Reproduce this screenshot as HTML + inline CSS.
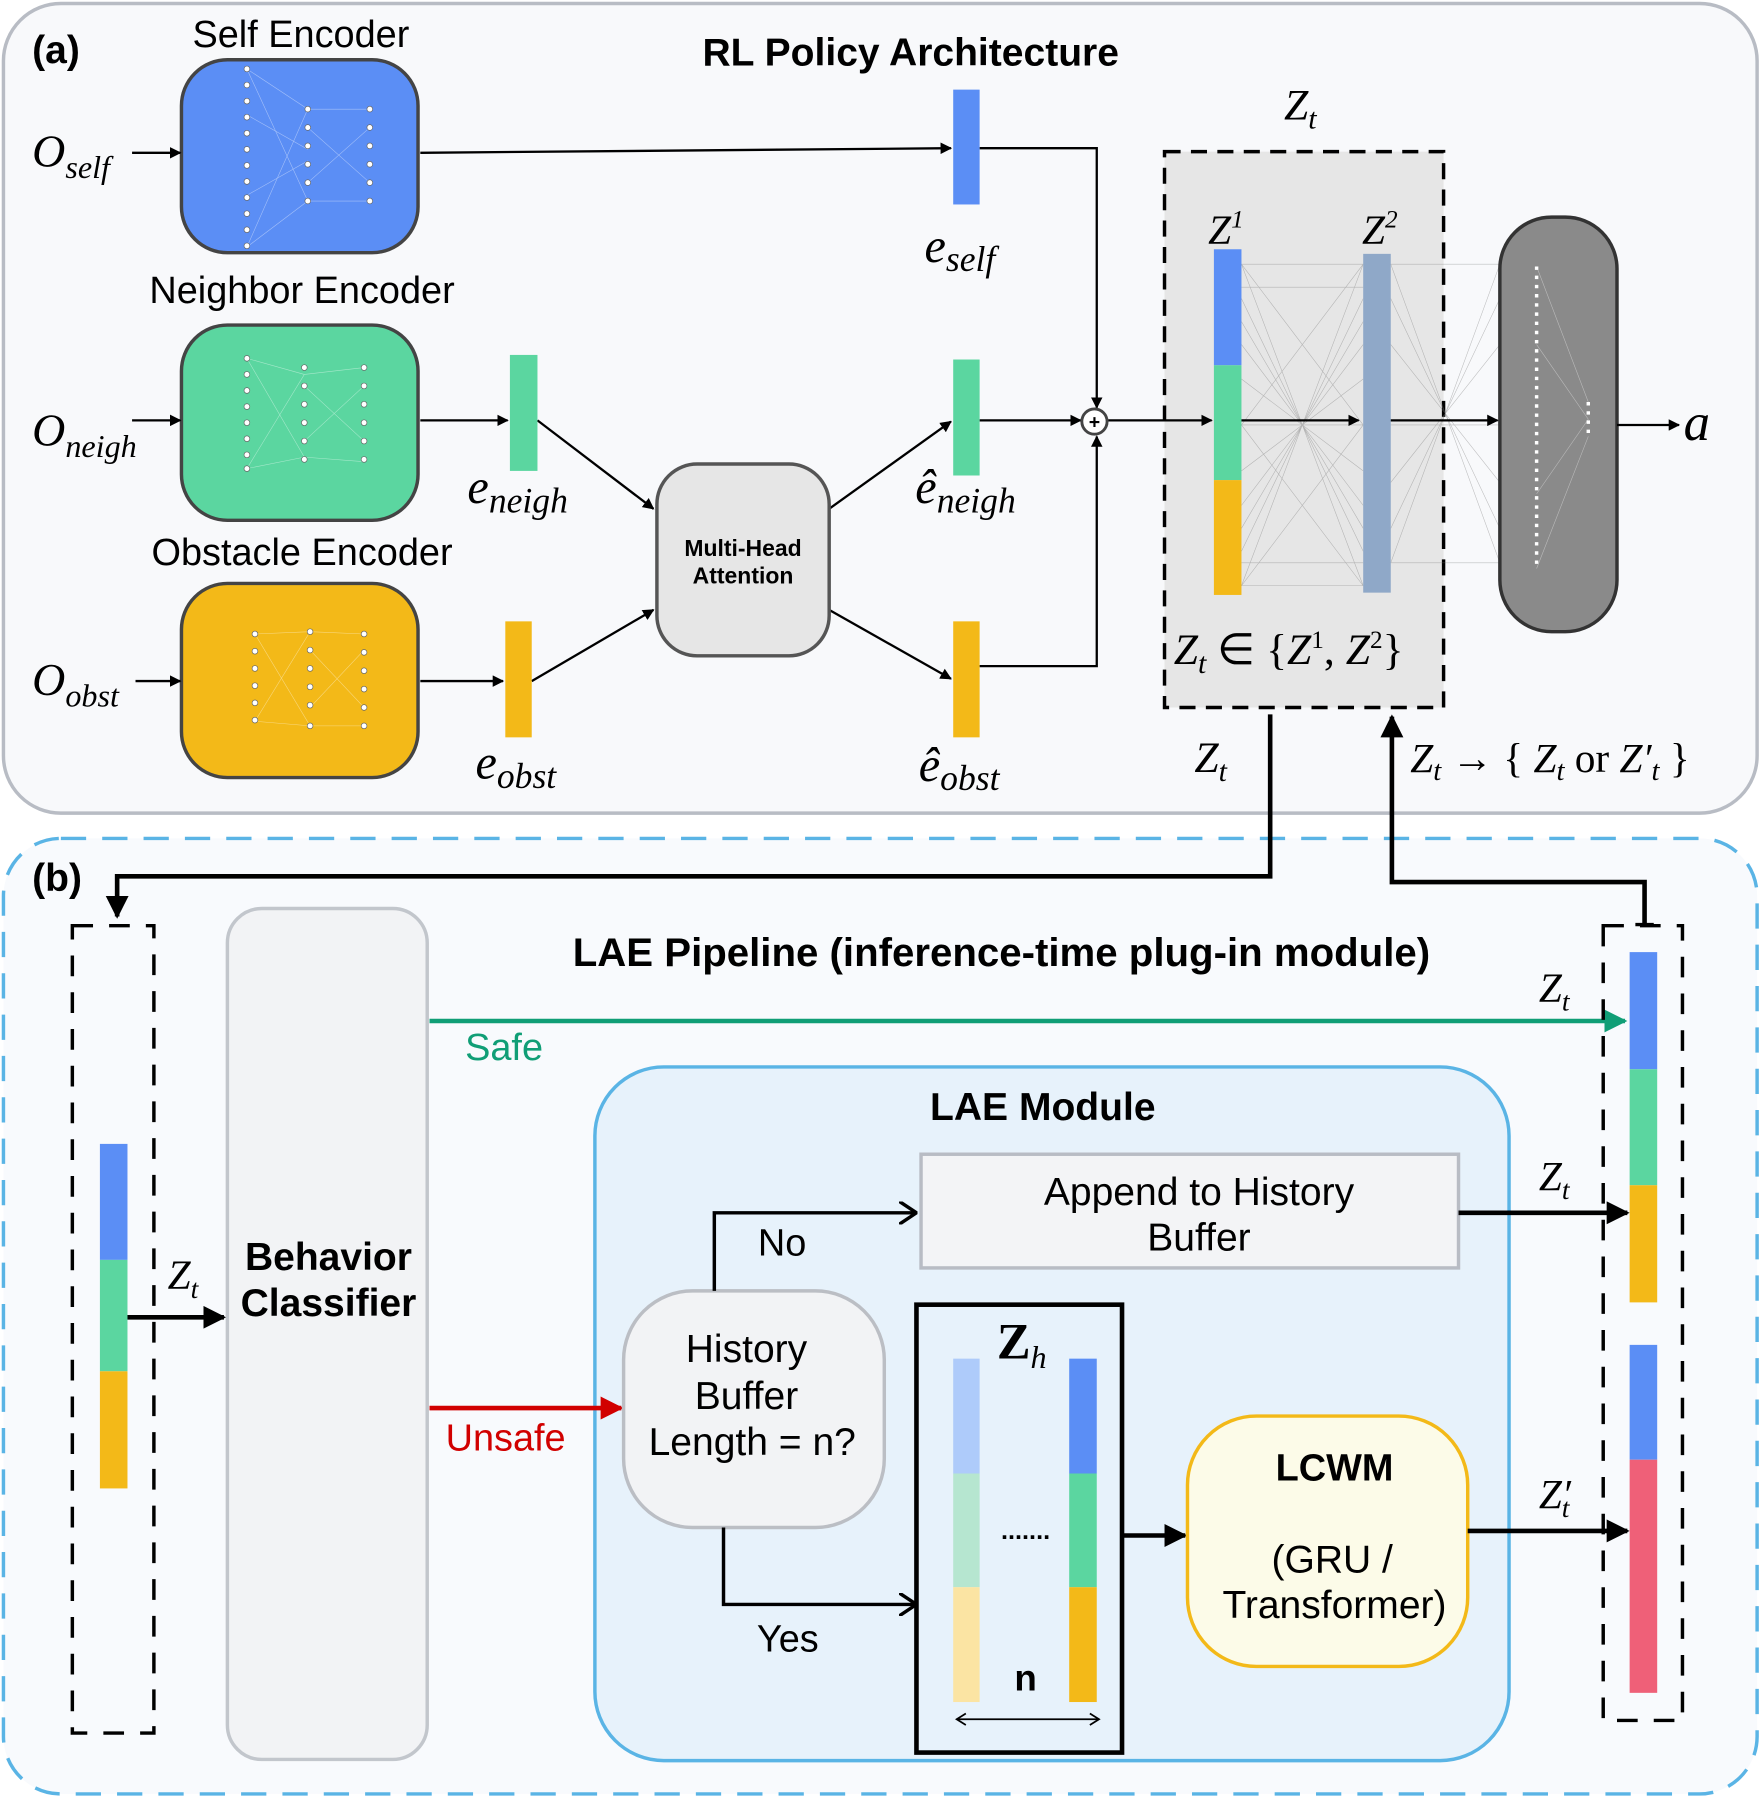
<!DOCTYPE html>
<html><head><meta charset="utf-8"><style>
html,body{margin:0;padding:0;background:#fff}
svg{display:block}
.s{font-family:"Liberation Sans",sans-serif}
.m{font-family:"Liberation Serif",serif;font-style:italic}
</style></head><body>
<svg width="1764" height="1802" viewBox="0 0 1536 1569" xmlns="http://www.w3.org/2000/svg">
<defs>
<marker id="ah" markerWidth="10" markerHeight="10" refX="9" refY="5" orient="auto" markerUnits="userSpaceOnUse"><path d="M0,0 L10,5 L0,10 z" fill="#000"/></marker>
<marker id="ahb" markerWidth="20" markerHeight="20" refX="18" refY="10" orient="auto" markerUnits="userSpaceOnUse"><path d="M0,0 L20,10 L0,20 z" fill="#000"/></marker>
<marker id="ahg" markerWidth="20" markerHeight="20" refX="18" refY="10" orient="auto" markerUnits="userSpaceOnUse"><path d="M0,0 L20,10 L0,20 z" fill="#109e76"/></marker>
<marker id="ahr" markerWidth="20" markerHeight="20" refX="18" refY="10" orient="auto" markerUnits="userSpaceOnUse"><path d="M0,0 L20,10 L0,20 z" fill="#d10000"/></marker>
<marker id="ahv" markerWidth="16" markerHeight="20" refX="14" refY="10" orient="auto" markerUnits="userSpaceOnUse"><path d="M0,0 L15,10 L0,20" fill="none" stroke="#000" stroke-width="3"/></marker>
</defs>
<rect x="3" y="3" width="1527" height="705" rx="50" fill="#f8f9fb" stroke="#b8bcc4" stroke-width="3"/>
<rect x="3" y="730" width="1527" height="832" rx="50" fill="#f8fafd" stroke="#5ab4e5" stroke-width="3" stroke-dasharray="22,14"/>
<text x="28" y="55" class="s" font-size="34" font-weight="bold">(a)</text>
<text x="793" y="57" class="s" font-size="34" font-weight="bold" text-anchor="middle">RL Policy Architecture</text>
<text x="262" y="41" class="s" font-size="33" text-anchor="middle">Self Encoder</text>
<text x="263" y="264" class="s" font-size="33" text-anchor="middle">Neighbor Encoder</text>
<text x="263" y="492" class="s" font-size="33" text-anchor="middle">Obstacle Encoder</text>
<rect x="158" y="52" width="206" height="168" rx="40" fill="#5b8ef5" stroke="#444" stroke-width="3"/>
<rect x="158" y="283" width="206" height="170" rx="40" fill="#5bd6a0" stroke="#444" stroke-width="3"/>
<rect x="158" y="508" width="206" height="169" rx="40" fill="#f3b918" stroke="#444" stroke-width="3"/>
<g stroke="#fff" stroke-width="0.5" opacity="0.45">
<path d="M215,60 L268,95 M215,215 L268,175 M268,95 L322,95 M268,175 L322,175 M215,60 L268,175 M215,215 L268,95 M215,100 L268,130 M215,170 L268,140 M268,111 L322,159 M268,159 L322,111"/>
<path d="M215,312 L265,326 M215,408 L265,398 M265,326 L317,320 M265,398 L317,402 M215,312 L265,398 M215,408 L265,326 M265,336 L317,384 M265,384 L317,336"/>
<path d="M222,552 L270,550 M222,628 L270,632 M270,550 L317,552 M270,632 L317,632 M222,552 L270,632 M222,628 L270,550 M270,566 L317,616 M270,616 L317,566"/>
</g>
<g fill="#fff" stroke="#666" stroke-width="0.6">
<circle cx="215" cy="60" r="2.5"/><circle cx="215" cy="74" r="2.5"/><circle cx="215" cy="88" r="2.5"/><circle cx="215" cy="102" r="2.5"/><circle cx="215" cy="116" r="2.5"/><circle cx="215" cy="130" r="2.5"/><circle cx="215" cy="144" r="2.5"/><circle cx="215" cy="158" r="2.5"/><circle cx="215" cy="172" r="2.5"/><circle cx="215" cy="186" r="2.5"/><circle cx="215" cy="200" r="2.5"/><circle cx="215" cy="214" r="2.5"/>
<circle cx="268" cy="95" r="2.5"/><circle cx="268" cy="111" r="2.5"/><circle cx="268" cy="127" r="2.5"/><circle cx="268" cy="143" r="2.5"/><circle cx="268" cy="159" r="2.5"/><circle cx="268" cy="175" r="2.5"/>
<circle cx="322" cy="95" r="2.5"/><circle cx="322" cy="111" r="2.5"/><circle cx="322" cy="127" r="2.5"/><circle cx="322" cy="143" r="2.5"/><circle cx="322" cy="159" r="2.5"/><circle cx="322" cy="175" r="2.5"/>
<circle cx="215" cy="312" r="2.5"/><circle cx="215" cy="326" r="2.5"/><circle cx="215" cy="340" r="2.5"/><circle cx="215" cy="354" r="2.5"/><circle cx="215" cy="368" r="2.5"/><circle cx="215" cy="382" r="2.5"/><circle cx="215" cy="396" r="2.5"/><circle cx="215" cy="408" r="2.5"/>
<circle cx="265" cy="320" r="2.5"/><circle cx="265" cy="336" r="2.5"/><circle cx="265" cy="352" r="2.5"/><circle cx="265" cy="368" r="2.5"/><circle cx="265" cy="384" r="2.5"/><circle cx="265" cy="400" r="2.5"/>
<circle cx="317" cy="320" r="2.5"/><circle cx="317" cy="336" r="2.5"/><circle cx="317" cy="352" r="2.5"/><circle cx="317" cy="368" r="2.5"/><circle cx="317" cy="384" r="2.5"/><circle cx="317" cy="400" r="2.5"/>
<circle cx="222" cy="552" r="2.5"/><circle cx="222" cy="567" r="2.5"/><circle cx="222" cy="582" r="2.5"/><circle cx="222" cy="597" r="2.5"/><circle cx="222" cy="612" r="2.5"/><circle cx="222" cy="627" r="2.5"/>
<circle cx="270" cy="550" r="2.5"/><circle cx="270" cy="566" r="2.5"/><circle cx="270" cy="582" r="2.5"/><circle cx="270" cy="598" r="2.5"/><circle cx="270" cy="614" r="2.5"/><circle cx="270" cy="632" r="2.5"/>
<circle cx="317" cy="552" r="2.5"/><circle cx="317" cy="568" r="2.5"/><circle cx="317" cy="584" r="2.5"/><circle cx="317" cy="600" r="2.5"/><circle cx="317" cy="616" r="2.5"/><circle cx="317" cy="632" r="2.5"/>
</g>
<text x="28" y="145" class="m" font-size="40">O<tspan font-size="28" dy="10">self</tspan></text>
<text x="28" y="388" class="m" font-size="40">O<tspan font-size="28" dy="10">neigh</tspan></text>
<text x="28" y="605" class="m" font-size="40">O<tspan font-size="28" dy="10">obst</tspan></text>
<rect x="1014" y="132" width="243" height="484" fill="#e6e6e6" stroke="#000" stroke-width="3" stroke-dasharray="14,9"/>
<g stroke="#777" stroke-width="0.5" opacity="0.45">
<path d="M1081,230 L1187,510 M1081,510 L1187,230 M1081,300 L1187,440 M1081,440 L1187,300 M1081,260 L1187,480 M1081,480 L1187,260 M1081,370 L1187,370 M1081,230 L1187,230 M1081,510 L1187,510 M1081,330 L1187,410 M1081,410 L1187,330 M1081,280 L1187,460 M1081,460 L1187,280 M1081,250 L1187,250 M1081,490 L1187,490 M1081,230 L1187,370 M1081,510 L1187,370 M1081,370 L1187,230 M1081,370 L1187,510"/>
<path d="M1211,230 L1306,230 M1211,490 L1306,490 M1211,260 L1306,460 M1211,460 L1306,260 M1211,300 L1306,420 M1211,420 L1306,300 M1211,370 L1306,370 M1211,230 L1306,490 M1211,490 L1306,230"/>
</g>
<rect x="1057" y="217" width="24" height="101" fill="#5b8ef5"/>
<rect x="1057" y="318" width="24" height="100" fill="#5bd6a0"/>
<rect x="1057" y="418" width="24" height="100" fill="#f3b918"/>
<rect x="1187" y="221" width="24" height="295" fill="#8fa8c8"/>
<rect x="1306" y="189" width="102" height="361" rx="45" fill="#8a8a8a" stroke="#333" stroke-width="3"/>
<g stroke="#ddd" stroke-width="0.5" opacity="0.6">
<path d="M1338,232 L1383,350 M1338,495 L1383,380 M1338,300 L1383,365 M1338,430 L1383,365"/>
</g>
<line x1="1338" y1="232" x2="1338" y2="495" stroke="#fff" stroke-width="3" stroke-dasharray="3,5"/>
<line x1="1383" y1="350" x2="1383" y2="380" stroke="#fff" stroke-width="3" stroke-dasharray="3,5"/>
<g stroke="#000" stroke-width="2" fill="none" marker-end="url(#ah)">
<line x1="115" y1="133" x2="157" y2="133"/>
<line x1="115" y1="366" x2="157" y2="366"/>
<line x1="118" y1="593" x2="157" y2="593"/>
<line x1="366" y1="133" x2="828" y2="129"/>
<polyline points="853,129 955,129 955,355"/>
<polyline points="853,580 955,580 955,380"/>
<line x1="366" y1="366" x2="442" y2="366"/>
<line x1="468" y1="366" x2="569" y2="443"/>
<line x1="366" y1="593" x2="438" y2="593"/>
<line x1="463" y1="593" x2="569" y2="531"/>
<line x1="722" y1="443" x2="828" y2="367"/>
<line x1="722" y1="531" x2="828" y2="591"/>
<line x1="853" y1="366" x2="941" y2="366"/>
<line x1="965" y1="366" x2="1055" y2="366"/>
<line x1="1081" y1="366" x2="1183" y2="366"/>
<line x1="1211" y1="366" x2="1304" y2="366"/>
<line x1="1408" y1="370" x2="1462" y2="370"/>
</g>
<rect x="830" y="78" width="23" height="100" fill="#5b8ef5"/>
<rect x="444" y="309" width="24" height="101" fill="#5bd6a0"/>
<rect x="830" y="313" width="23" height="101" fill="#5bd6a0"/>
<rect x="440" y="541" width="23" height="101" fill="#f3b918"/>
<rect x="830" y="541" width="23" height="101" fill="#f3b918"/>
<text x="805" y="228" class="m" font-size="42">e<tspan font-size="31" dy="8">self</tspan></text>
<text x="407" y="438" class="m" font-size="42">e<tspan font-size="31" dy="8">neigh</tspan></text>
<text x="797" y="438" class="m" font-size="42">ê<tspan font-size="31" dy="8">neigh</tspan></text>
<text x="414" y="678" class="m" font-size="42">e<tspan font-size="31" dy="8">obst</tspan></text>
<text x="800" y="680" class="m" font-size="42">ê<tspan font-size="31" dy="8">obst</tspan></text>
<rect x="572" y="404" width="150" height="167" rx="35" fill="#e6e6e6" stroke="#555" stroke-width="3"/>
<text x="647" y="484" class="s" font-size="20" font-weight="bold" text-anchor="middle">Multi-Head</text>
<text x="647" y="508" class="s" font-size="20" font-weight="bold" text-anchor="middle">Attention</text>
<circle cx="953" cy="367" r="11" fill="#fff" stroke="#444" stroke-width="2.5"/>
<text x="953" y="373" class="s" font-size="17" font-weight="bold" text-anchor="middle">+</text>
<text x="1466" y="383" class="m" font-size="46">a</text>
<text x="1118" y="104" class="m" font-size="38">Z<tspan font-size="26" dy="8">t</tspan></text>
<text x="1052" y="212" class="m" font-size="36">Z<tspan font-size="22" dy="-14">1</tspan></text>
<text x="1186" y="212" class="m" font-size="36">Z<tspan font-size="22" dy="-14">2</tspan></text>
<text x="1022" y="578" class="m" font-size="38">Z<tspan font-size="26" dy="8">t</tspan><tspan dy="-8" font-style="normal"> ∈ {</tspan>Z<tspan font-size="22" dy="-14" font-style="normal">1</tspan><tspan dy="14" font-style="normal">, </tspan>Z<tspan font-size="22" dy="-14" font-style="normal">2</tspan><tspan dy="14" font-style="normal">}</tspan></text>
<text x="1040" y="672" class="m" font-size="38">Z<tspan font-size="26" dy="8">t</tspan></text>
<text x="1228" y="672" class="m" font-size="36">Z<tspan font-size="25" dy="7">t</tspan><tspan dy="-7" font-style="normal"> → { </tspan>Z<tspan font-size="25" dy="7">t</tspan><tspan dy="-7" font-style="normal"> or </tspan>Z′<tspan font-size="25" dy="7">t</tspan><tspan dy="-7" font-style="normal"> }</tspan></text>
<polyline points="1106,622 1106,763 102,763 102,798" fill="none" stroke="#000" stroke-width="4" marker-end="url(#ahb)"/>
<polyline points="1432,805 1432,768 1212,768 1212,624" fill="none" stroke="#000" stroke-width="4" marker-end="url(#ahb)"/>
<line x1="1424" y1="805" x2="1440" y2="805" stroke="#000" stroke-width="3"/>
<text x="28" y="776" class="s" font-size="34" font-weight="bold">(b)</text>
<text x="872" y="841" class="s" font-size="35" font-weight="bold" text-anchor="middle">LAE Pipeline (inference-time plug-in module)</text>
<rect x="63" y="806" width="71" height="703" fill="none" stroke="#000" stroke-width="3" stroke-dasharray="18,14"/>
<rect x="87" y="996" width="24" height="101" fill="#5b8ef5"/>
<rect x="87" y="1097" width="24" height="97" fill="#5bd6a0"/>
<rect x="87" y="1194" width="24" height="102" fill="#f3b918"/>
<line x1="111" y1="1147" x2="195" y2="1147" stroke="#000" stroke-width="4" marker-end="url(#ahb)"/>
<text x="146" y="1122" class="m" font-size="36">Z<tspan font-size="24" dy="8">t</tspan></text>
<rect x="198" y="791" width="174" height="741" rx="30" fill="#f2f3f5" stroke="#c2c6cc" stroke-width="3"/>
<text x="286" y="1106" class="s" font-size="34" font-weight="bold" text-anchor="middle">Behavior</text>
<text x="286" y="1146" class="s" font-size="34" font-weight="bold" text-anchor="middle">Classifier</text>
<line x1="374" y1="889" x2="1415" y2="889" stroke="#109e76" stroke-width="4" marker-end="url(#ahg)"/>
<text x="405" y="923" class="s" font-size="33" fill="#109e76">Safe</text>
<rect x="518" y="929" width="796" height="604" rx="60" fill="#e7f2fb" stroke="#5ab4e5" stroke-width="3"/>
<line x1="374" y1="1226" x2="541" y2="1226" stroke="#d10000" stroke-width="4" marker-end="url(#ahr)"/>
<text x="388" y="1263" class="s" font-size="33" fill="#d10000">Unsafe</text>
<text x="908" y="975" class="s" font-size="34" font-weight="bold" text-anchor="middle">LAE Module</text>
<rect x="802" y="1005" width="468" height="99" fill="#f3f4f6" stroke="#b8bcc4" stroke-width="3"/>
<text x="1044" y="1049" class="s" font-size="34" text-anchor="middle">Append to History</text>
<text x="1044" y="1089" class="s" font-size="34" text-anchor="middle">Buffer</text>
<rect x="543" y="1124" width="227" height="206" rx="60" fill="#f2f3f5" stroke="#bbbec4" stroke-width="3"/>
<text x="650" y="1186" class="s" font-size="34" text-anchor="middle">History</text>
<text x="650" y="1227" class="s" font-size="34" text-anchor="middle">Buffer</text>
<text x="655" y="1267" class="s" font-size="34" text-anchor="middle">Length = n?</text>
<polyline points="622,1124 622,1056 797,1056" fill="none" stroke="#000" stroke-width="3" marker-end="url(#ahv)"/>
<polyline points="630,1330 630,1397 797,1397" fill="none" stroke="#000" stroke-width="3" marker-end="url(#ahv)"/>
<text x="681" y="1093" class="s" font-size="33" text-anchor="middle">No</text>
<text x="686" y="1438" class="s" font-size="33" text-anchor="middle">Yes</text>
<rect x="798" y="1136" width="179" height="390" fill="none" stroke="#000" stroke-width="4"/>
<rect x="830" y="1183" width="23" height="100" fill="#aecbfa"/>
<rect x="830" y="1283" width="23" height="99" fill="#b6e6d0"/>
<rect x="830" y="1382" width="23" height="100" fill="#fbe4a3"/>
<rect x="931" y="1183" width="24" height="100" fill="#5b8ef5"/>
<rect x="931" y="1283" width="24" height="99" fill="#5bd6a0"/>
<rect x="931" y="1382" width="24" height="100" fill="#f3b918"/>
<text x="868" y="1183" font-family="Liberation Serif,serif" font-size="44" font-weight="bold">Z<tspan font-size="28" font-style="italic" font-weight="normal" dy="8">h</tspan></text>
<text x="893" y="1340" class="s" font-size="22" font-weight="bold" text-anchor="middle">.......</text>
<text x="893" y="1472" class="s" font-size="32" font-weight="bold" text-anchor="middle">n</text>
<line x1="833" y1="1497" x2="957" y2="1497" stroke="#000" stroke-width="1.5"/>
<path d="M841,1492 L833,1497 L841,1502 M949,1492 L957,1497 L949,1502" fill="none" stroke="#000" stroke-width="1.5"/>
<line x1="977" y1="1337" x2="1032" y2="1337" stroke="#000" stroke-width="4" marker-end="url(#ahb)"/>
<rect x="1034" y="1233" width="244" height="218" rx="60" fill="#fcfbe8" stroke="#f3b918" stroke-width="3"/>
<text x="1162" y="1289" class="s" font-size="33" font-weight="bold" text-anchor="middle">LCWM</text>
<text x="1160" y="1369" class="s" font-size="34" text-anchor="middle">(GRU /</text>
<text x="1162" y="1409" class="s" font-size="34" text-anchor="middle">Transformer)</text>
<rect x="1396" y="806" width="69" height="692" fill="none" stroke="#000" stroke-width="3" stroke-dasharray="18,14"/>
<rect x="1419" y="829" width="24" height="102" fill="#5b8ef5"/>
<rect x="1419" y="931" width="24" height="101" fill="#5bd6a0"/>
<rect x="1419" y="1032" width="24" height="102" fill="#f3b918"/>
<rect x="1419" y="1171" width="24" height="100" fill="#5b8ef5"/>
<rect x="1419" y="1271" width="24" height="203" fill="#ef6078"/>
<line x1="1270" y1="1056" x2="1417" y2="1056" stroke="#000" stroke-width="4" marker-end="url(#ahb)"/>
<line x1="1278" y1="1333" x2="1417" y2="1333" stroke="#000" stroke-width="4" marker-end="url(#ahb)"/>
<text x="1340" y="872" class="m" font-size="36">Z<tspan font-size="24" dy="8">t</tspan></text>
<text x="1340" y="1036" class="m" font-size="36">Z<tspan font-size="24" dy="8">t</tspan></text>
<text x="1340" y="1313" class="m" font-size="36">Z′<tspan font-size="24" dy="8" dx="-8">t</tspan></text>
</svg>
</body></html>
